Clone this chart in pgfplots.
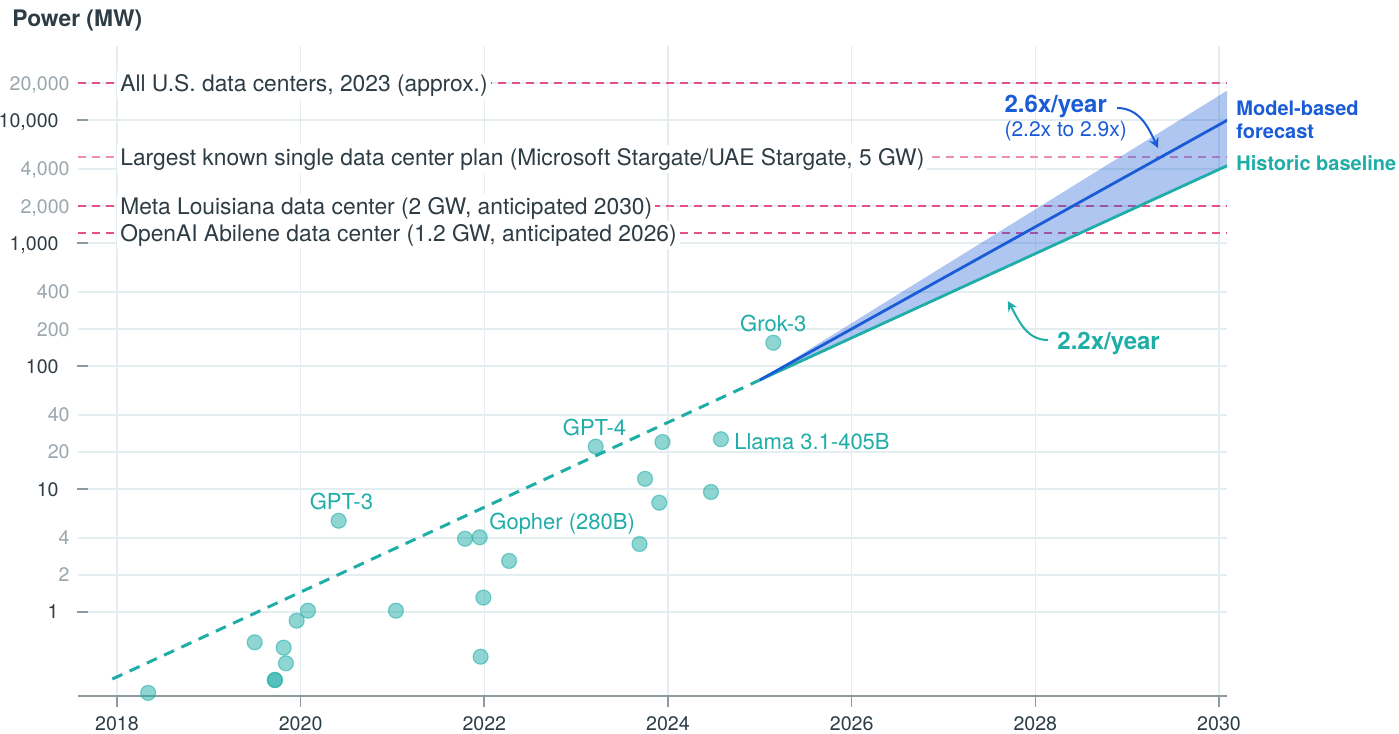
\documentclass[border=0pt]{standalone}
\usepackage{pgfplots}
\pgfplotsset{compat=1.18}
\usepackage{fontspec}
\setmainfont{TeX Gyre Heros}
\usetikzlibrary{arrows.meta}
\definecolor{teal1}{HTML}{1FADA8}
\definecolor{blue1}{HTML}{1A5CD8}
\definecolor{pink1}{HTML}{E54F8A}
\definecolor{pink2}{HTML}{EE8DB3}
\definecolor{tdark}{HTML}{2E3D45}
\definecolor{tlight}{HTML}{9AA7AD}
\definecolor{tickgray}{HTML}{8E9AA0}
\definecolor{gridc}{HTML}{E4EDEF}
\pgfplotstableread{
x y
2018.34 0.22
2019.50 0.567
2019.815 0.513
2019.84 0.383
2019.72 0.280
2019.72 0.280
2019.957 0.850
2020.08 1.025
2020.414 5.52
2021.038 1.025
2021.79 3.94
2021.95 4.05
2021.99 1.31
2021.96 0.433
2022.27 2.60
2023.213 22.1
2023.69 3.57
2023.75 12.1
2023.905 7.74
2023.94 24.1
2024.468 9.46
2024.577 25.4
2025.147 154.6
}\pts
\newcommand\reffont{\fontsize{11.4}{13}\selectfont}
\newcommand\ptfont{\fontsize{11}{13}\selectfont}
\begin{document}
\begin{tikzpicture}
\useasboundingbox (-39pt,-19pt) rectangle (660.5pt,348pt);
\begin{axis}[
 scale only axis, width=574.5pt, height=325pt,
 at={(0pt,0pt)}, anchor=south west,
 xmin=2017.576, xmax=2030.087,
 ymode=log, ymin=0.2075, ymax=40000,
 axis x line*=bottom, axis y line*=left,
 x axis line style={-, draw=tickgray, line width=1pt},
 y axis line style={draw=none},
 xtick={2018,2020,2022,2024,2026,2028,2030},
 xticklabels={2018,2020,2022,2024,2026,2028,2030},
 ytick={1,10,100,1000,10000},
 yticklabels={1,10,100,{1,000},{10,000}},
 extra y ticks={2,4,20,40,200,400,2000,4000,20000},
 extra y tick labels={2,4,20,40,200,400,{2,000},{4,000},{20,000}},
 extra y tick style={grid=major, major tick length=0pt, ytick style={draw=none}, yticklabel style={text=tlight}},
 yminorticks=false, yminorgrids=false,
 grid=major, grid style={gridc, line width=0.75pt},
 tick align=outside, major tick length=5.5pt,
 xtick style={tickgray, line width=0.8pt},
 ytick style={tickgray, line width=0.8pt, xshift=5pt},
 tick label style={font=\fontsize{9.8}{11}\selectfont, text=tdark},
 xticklabel style={anchor=north, inner sep=0pt, yshift=-4.75pt},
 yticklabel style={anchor=base east, inner sep=0pt, xshift=-4pt, yshift=-3.5pt},
 clip mode=individual,
]
% reference lines
\addplot[pink1, line width=0.9pt, dash pattern=on 4pt off 3pt] coordinates {(2017.576,20000) (2030.087,20000)};
\addplot[pink2, line width=0.8pt, dash pattern=on 4pt off 3pt] coordinates {(2017.576,5000) (2030.087,5000)};
\addplot[pink1, line width=0.9pt, dash pattern=on 4pt off 3pt] coordinates {(2017.576,2000) (2030.087,2000)};
\addplot[pink1, line width=0.9pt, dash pattern=on 4pt off 3pt] coordinates {(2017.576,1200) (2030.087,1200)};
\node[anchor=base west, fill=white, inner xsep=1.5pt, inner ysep=1.5pt, text=tdark, font=\reffont, yshift=-4pt] at (axis cs:2018,20000) {All U.S. data centers, 2023 (approx.)};
\node[anchor=base west, fill=white, inner xsep=1.5pt, inner ysep=1.5pt, text=tdark, font=\reffont, yshift=-4pt] at (axis cs:2018,5000) {Largest known single data center plan (Microsoft Stargate/UAE Stargate, 5 GW)};
\node[anchor=base west, fill=white, inner xsep=1.5pt, inner ysep=1.5pt, text=tdark, font=\reffont, yshift=-4pt] at (axis cs:2018,2000) {Meta Louisiana data center (2 GW, anticipated 2030)};
\node[anchor=base west, fill=white, inner xsep=1.5pt, inner ysep=1.5pt, text=tdark, font=\reffont, yshift=-4pt] at (axis cs:2018,1200) {OpenAI Abilene data center (1.2 GW, anticipated 2026)};
% forecast band
\addplot[draw=none, fill=blue1, fill opacity=0.35] coordinates {(2025,77) (2026,223.3) (2027,647.6) (2028,1878) (2029,5446) (2030,15794) (2030.09,17381) (2030.09,4260) (2030,3968) (2029,1803.8) (2028,819.9) (2027,372.7) (2026,169.4) (2025,77)} -- cycle;
\addplot[teal1, line width=1.4pt] coordinates {(2025,77) (2026,169.4) (2027,372.7) (2028,819.9) (2029,1803.8) (2030,3968) (2030.09,4260)};
\addplot[blue1, line width=1.4pt] coordinates {(2025,77) (2026,200.2) (2027,520.5) (2028,1353.3) (2029,3518.6) (2030,9148) (2030.09,9970)};
\addplot[teal1, line width=1.5pt, dash pattern=on 5.5pt off 4pt] coordinates {(2017.95,0.285) (2025,77)};
% models
\addplot[only marks, mark=*, mark size=3.75pt, mark options={fill=teal1, fill opacity=0.5, draw=teal1, draw opacity=0.55, line width=0.6pt}] table[x=x, y=y] {\pts};
% point labels
\node[anchor=base, text=teal1, font=\ptfont, inner sep=0pt, yshift=5.5pt] at (axis cs:2025.147,154.6) {Grok-3};
\node[anchor=base, text=teal1, font=\ptfont, inner sep=0pt, yshift=5.8pt, xshift=-0.6pt] at (axis cs:2023.213,22.1) {GPT-4};
\node[anchor=base, text=teal1, font=\ptfont, inner sep=0pt, yshift=5.8pt, xshift=1.4pt] at (axis cs:2020.414,5.52) {GPT-3};
\node[anchor=base west, text=teal1, font=\ptfont, inner sep=0pt, yshift=3.65pt, xshift=4.65pt] at (axis cs:2021.95,4.05) {Gopher (280B)};
\node[anchor=base west, text=teal1, font=\ptfont, inner sep=0pt, yshift=-5pt, xshift=6.5pt] at (axis cs:2024.577,25.4) {Llama 3.1-405B};
% annotations
\node[anchor=west, text=blue1, font=\bfseries\fontsize{10}{11.5}\selectfont, inner sep=0pt, xshift=4.5pt, align=left] at (axis cs:2030.087,9970) {Model-based\\forecast};
\node[anchor=west, text=teal1, font=\bfseries\fontsize{10}{11.5}\selectfont, inner sep=0pt, xshift=4.5pt, yshift=1pt] at (axis cs:2030.087,4260) {Historic baseline};
\node[anchor=west, text=blue1, font=\bfseries\fontsize{12}{14}\selectfont, inner sep=0pt] at (axis cs:2027.66,13000) {2.6x/year};
\node[anchor=west, text=blue1, font=\fontsize{10.5}{12}\selectfont, inner sep=0pt] at (axis cs:2027.66,8140) {(2.2x to 2.9x)};
\draw[blue1, line width=1pt, -{Stealth[length=5pt,width=5pt]}] (axis cs:2028.89,12530) to[out=0, in=115] (axis cs:2029.336,5920);
\node[anchor=west, text=teal1, font=\bfseries\fontsize{12}{14}\selectfont, inner sep=0pt] at (axis cs:2028.236,153.8) {2.2x/year};
\draw[teal1, line width=1pt, -{Stealth[length=5pt,width=5pt]}] (axis cs:2028.138,162.7) to[out=180, in=-60] (axis cs:2027.70,337.5);
\end{axis}
\node[anchor=west, inner sep=0pt, text=tdark, font=\bfseries\fontsize{11.4}{13}\selectfont] at (-33pt,338pt) {Power (MW)};
\end{tikzpicture}
\end{document}
